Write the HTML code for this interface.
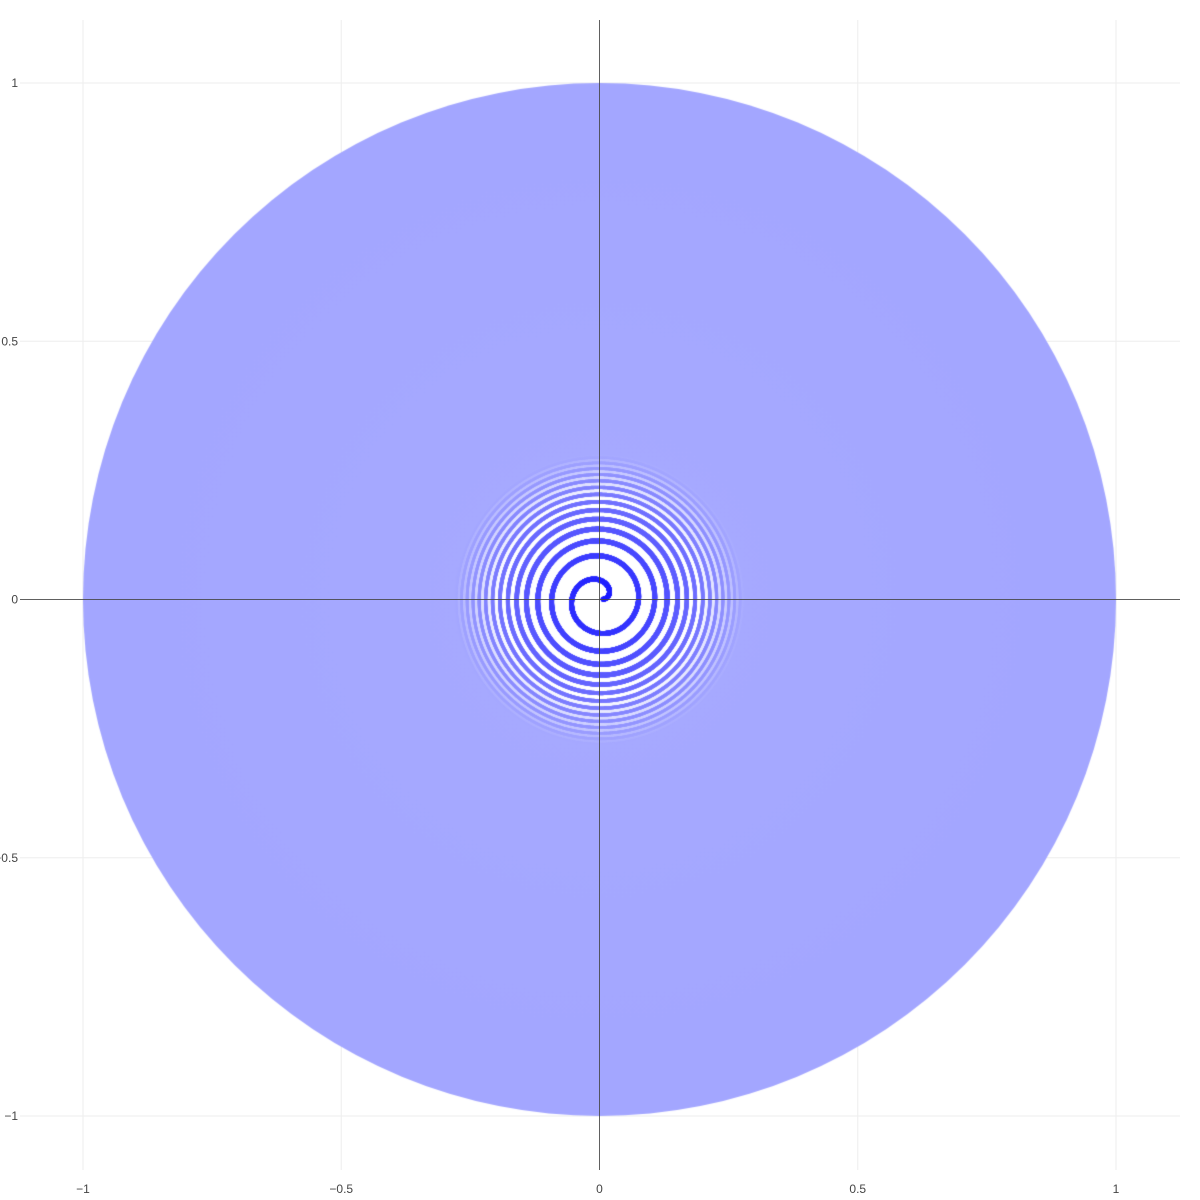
<!DOCTYPE html>
<html><head><meta charset="utf-8"><style>
html,body{margin:0;padding:0;background:#fff;width:1200px;height:1200px;overflow:hidden}
#wrap{position:relative;width:1200px;height:1200px}
svg,canvas{position:absolute;left:0;top:0}
text{font-family:"Liberation Sans",sans-serif;font-size:12px;fill:#444}
</style></head><body>
<div id="wrap">
<svg id="grid" width="1200" height="1200"></svg>
<canvas id="cv" width="1200" height="1200"></canvas>
<svg id="over" width="1200" height="1200"></svg>
</div>
<script>
const xTicks=[-1,-0.5,0,0.5,1];
const yTicks=[-1,-0.5,0,0.5,1];
const xTickLabels=["\u22121","\u22120.5","0","0.5","1"];
const yTickLabels=["\u22121","\u22120.5","0","0.5","1"];
const spiralTurns=[175];
const spiralRadiusMax=[1];
const markerSizes=[5,1.2];
const markerOpacity=[1.0,0.62];

const L=20,R=1180,T=20,B=1170;
const sx=v=>599.5+v*516.5;
const sy=v=>599.5-v*516.5;
const NS="http://www.w3.org/2000/svg";
const g=document.getElementById('grid'),o=document.getElementById('over');
function mk(p,tag,at){const e=document.createElementNS(NS,tag);for(const k in at)e.setAttribute(k,at[k]);p.appendChild(e);return e;}
xTicks.forEach((v,i)=>{
 if(v!==0){const l=mk(g,'line',{x1:sx(v),x2:sx(v),y1:T,y2:B,stroke:'#eee','stroke-width':1});
 
 }
 const t=mk(g,'text',{x:sx(v),y:1193,'text-anchor':'middle'});t.textContent=xTickLabels[i];
 
 
});
yTicks.forEach((v,i)=>{
 if(v!==0){const l=mk(g,'line',{x1:L,x2:R,y1:sy(v),y2:sy(v),stroke:'#eee','stroke-width':1});
 
 }
 const t=mk(g,'text',{x:18,y:sy(v)+4,'text-anchor':'end'});t.textContent=yTickLabels[i];
 
 
});
const zx=mk(o,'line',{x1:sx(0),x2:sx(0),y1:T,y2:B,stroke:'#444','stroke-width':1,'stroke-opacity':0.85});


const zy=mk(o,'line',{x1:L,x2:R,y1:sy(0),y2:sy(0),stroke:'#444','stroke-width':1,'stroke-opacity':0.85});



const c=document.getElementById('cv').getContext('2d');
const thMax=spiralTurns[0]*2*Math.PI;
const R0=516.5*spiralRadiusMax[0];
const cx=sx(0),cy=sy(0);
const steps=200000;
c.lineCap='round';
const perTurn=R0*R0/spiralTurns[0];
let px=null,py=null;
for(let i=0;i<=steps;i++){
 const th=0.05+(thMax-0.05)*i/steps;
 const f=Math.sqrt(th/thMax);
 const r=spiralRadiusMax[0]*f;
 const rp=r*516.5;
 if(rp>160)break;
 const x=sx(r*Math.cos(th)),y=sy(r*Math.sin(th));
 if(px!==null){
  const spacing=perTurn/(2*Math.max(rp,1));
  const w=Math.min(markerSizes[0],Math.max(markerSizes[1],spacing*0.5));
  const a=markerOpacity[0]+(markerOpacity[1]-markerOpacity[0])*Math.min(1,Math.max(0,(rp-12)/88));
  const rc=Math.round(255-225*a),bc=255;
  c.strokeStyle='rgb('+rc+','+rc+','+bc+')';
  c.lineWidth=w;
  c.beginPath();c.moveTo(px,py);c.lineTo(x,y);c.stroke();
 }
 px=x;py=y;
}
const grad=c.createRadialGradient(cx,cy,0,cx,cy,R0);
grad.addColorStop(0,'rgba(166,169,255,0)');
grad.addColorStop(100/R0,'rgba(166,169,255,0)');
grad.addColorStop(145/R0,'rgba(166,169,255,1)');
grad.addColorStop(1,'rgba(163,166,255,1)');
c.fillStyle=grad;
c.beginPath();c.arc(cx,cy,R0,0,2*Math.PI);c.fill();
</script>
</body></html>
